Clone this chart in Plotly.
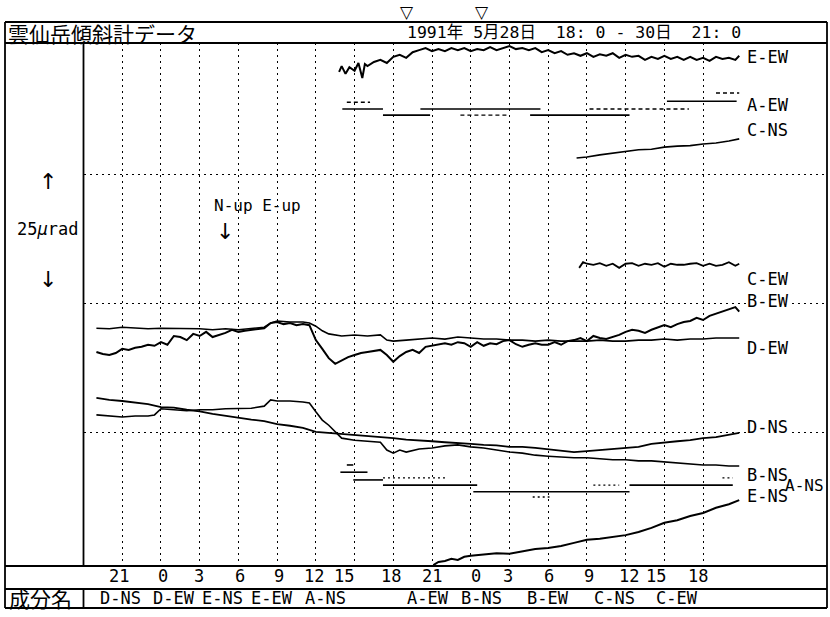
import plotly.graph_objects as go

# ---------------- data (hours after 1991-05-28 18:00, tilt in µrad, arbitrary offsets) -------------
grid_hours = [3, 6, 9, 12, 15, 18, 21, 24, 27, 30, 33, 36, 39, 42, 45, 48]
grid_urad = [25, 50, 75]

b_ew_t = [1.0, 1.5, 2.0, 2.5, 3.0, 3.5, 4.0, 4.5, 5.0, 5.5,
          6.0, 6.5, 7.0, 7.5, 8.0, 8.5, 9.0, 9.5, 10.0, 10.5,
          11.0, 11.5, 12.0, 12.5, 13.0, 13.5, 14.0, 14.5, 15.0, 15.5,
          16.0, 16.5, 17.0, 17.5, 18.0, 18.5, 19.0, 19.5, 20.0, 20.5,
          21.0, 21.5, 22.0, 22.5, 23.0, 23.5, 24.0, 24.5, 25.0, 25.5,
          26.0, 26.5, 27.0, 27.5, 28.0, 28.5, 29.0, 29.5, 30.0, 30.5,
          31.0, 31.5, 32.0, 32.5, 33.0, 33.5, 34.0, 34.5, 35.0, 35.5,
          36.0, 36.5, 37.0, 37.5, 38.0, 38.5, 39.0, 39.5, 40.0, 40.5,
          41.0, 41.5, 42.0, 42.5, 43.0, 43.5, 44.0, 44.5, 45.0, 45.5,
          46.0, 46.5, 47.0, 47.5, 48.0, 48.5, 49.0, 49.5, 50.0, 50.5, 50.8]
b_ew_v = [40.7, 40.3, 40.1, 40.5, 41.3, 41.1, 41.5, 41.7, 42.1, 41.9,
          42.6, 42.1, 43.8, 43.6, 43.0, 44.2, 43.8, 44.6, 43.6, 44.0,
          44.4, 45.0, 44.6, 44.8, 45.0, 45.2, 45.3, 46.3, 46.5, 46.1,
          46.3, 45.9, 46.1, 45.9, 43.0, 41.3, 39.5, 38.4, 39.1, 39.7,
          40.1, 40.5, 40.7, 40.9, 41.1, 40.1, 38.8, 39.9, 40.7, 41.1,
          40.5, 41.7, 41.9, 42.2, 42.4, 42.1, 42.6, 42.4, 41.7, 42.6,
          41.9, 42.4, 42.2, 42.8, 43.0, 42.2, 41.7, 42.1, 42.4, 42.1,
          42.1, 42.6, 42.1, 42.8, 43.0, 43.4, 42.8, 43.8, 43.4, 43.2,
          43.6, 44.0, 44.6, 45.0, 44.8, 44.4, 45.0, 45.5, 45.9, 45.5,
          46.1, 46.5, 46.7, 47.3, 46.9, 47.7, 48.1, 48.5, 49.0, 49.4, 48.5]

d_ew_t = [1, 2, 3, 4, 5, 6, 7, 8, 9, 10, 11, 12, 13, 14, 14.5, 15, 16, 17, 17.5, 18,
          18.5, 19, 20, 21, 22, 23, 23.5, 24, 25, 26, 27, 28, 29, 30, 31, 32, 33, 34,
          35, 36, 37, 38, 39, 40, 41, 42, 43, 44, 45, 46, 47, 48, 49, 50, 50.8]
d_ew_v = [45.3, 45.2, 45.5, 45.3, 45.2, 45.3, 45.3, 45.2, 45.2, 45.0, 45.2, 45.0, 45.2, 45.5,
          46.3, 46.7, 46.5, 46.5, 46.3, 45.7, 44.8, 44.2, 43.8, 44.0, 43.8, 44.0, 43.0, 42.8,
          43.0, 43.2, 43.4, 43.2, 43.6, 43.4, 43.2, 43.2, 43.0, 43.0, 42.8, 43.0, 42.8, 42.8,
          42.8, 43.0, 42.8, 42.8, 43.0, 43.0, 43.2, 43.0, 43.2, 43.2, 43.4, 43.4, 43.4]

d_ns_t = [1, 2, 3, 4, 5, 6, 7, 8, 9, 10, 11, 12, 13, 14, 15, 16, 17, 18, 19, 20, 21, 22,
          23, 24, 25, 26, 27, 28, 29, 30, 31, 32, 33, 34, 35, 36, 37, 38, 39, 40, 41, 42,
          43, 44, 45, 46, 47, 48, 49, 50, 50.8]
d_ns_v = [31.8, 31.4, 31.2, 30.9, 30.6, 30.0, 29.9, 29.5, 29.2, 28.7, 28.3, 28.0, 27.6, 27.3,
          26.7, 26.4, 26.0, 25.2, 25.0, 24.9, 24.6, 24.4, 24.2, 24.0, 23.7, 23.6, 23.4, 23.2,
          23.1, 22.9, 22.7, 22.6, 22.3, 22.3, 22.1, 21.8, 21.5, 21.3, 21.5, 21.7, 21.9, 22.1,
          22.3, 22.9, 23.2, 23.4, 23.6, 24.0, 24.2, 24.6, 25.0]

b_ns_t = [1, 2, 3, 4, 5, 5.5, 6, 7, 8, 9, 10, 11, 12, 13, 14, 14.5, 15, 16, 17, 17.5, 18,
          18.5, 19, 19.5, 20, 21, 22, 23, 23.5, 24, 24.5, 25, 26, 27, 28, 29, 30, 31, 32,
          33, 34, 35, 36, 37, 38, 39, 40, 41, 42, 43, 44, 45, 46, 47, 48, 49, 50, 50.8]
b_ns_v = [28.5, 28.3, 28.1, 28.3, 28.3, 28.5, 29.7, 29.5, 29.3, 29.5, 29.5, 29.7, 29.7, 29.8,
          30.2, 31.4, 31.2, 31.2, 31.0, 30.8, 29.1, 27.5, 26.5, 25.2, 24.0, 23.6, 23.4, 23.2,
          21.7, 21.1, 21.7, 21.3, 21.9, 22.1, 22.5, 22.7, 22.3, 22.1, 21.7, 21.3, 21.1, 20.7,
          20.5, 20.3, 20.2, 20.2, 20.0, 19.8, 19.8, 19.6, 19.6, 19.4, 19.2, 19.0, 18.8, 18.8,
          18.6, 18.6]

c_ew_t = [38.4, 38.7, 39.0, 39.5, 40.0, 40.5, 41.0, 41.5, 42.0, 42.5, 43.0, 43.5, 44.0,
          44.5, 45.0, 45.5, 46.0, 46.5, 47.0, 47.5, 48.0, 48.5, 49.0, 49.5, 50.0, 50.5, 50.8]
c_ew_v = [57.0, 58.1, 57.8, 57.6, 57.9, 57.4, 57.8, 57.0, 57.8, 57.9, 57.4, 57.8, 57.6,
          57.9, 57.2, 57.8, 57.6, 57.6, 57.8, 57.9, 57.4, 57.8, 57.4, 57.6, 58.1, 57.4, 57.8]

c_ns_t = [38.2, 39, 40, 41, 42, 43, 44, 45, 46, 47, 48, 49, 50, 50.8]
c_ns_v = [78.3, 78.5, 78.9, 79.2, 79.6, 79.9, 80.0, 80.4, 80.6, 80.7, 81.0, 81.2, 81.6, 82.0]

e_ew_t = [19.8, 20.0, 20.3, 20.6, 21.0, 21.3, 21.6, 21.8, 22.0, 22.5, 23.0, 23.5, 24.0,
          24.5, 25.0, 25.5, 26.0, 26.5, 27.0, 27.5, 28.0, 28.5, 29.0, 29.5, 30.0, 30.5,
          31.0, 31.5, 32.0, 32.5, 33.0, 33.5, 34.0, 34.5, 35.0, 35.5, 36.0, 36.5, 37.0,
          37.5, 38.0, 38.5, 39.0, 39.5, 40.0, 40.5, 41.0, 41.5, 42.0, 42.5, 43.0, 43.5,
          44.0, 44.5, 45.0, 45.5, 46.0, 46.5, 47.0, 47.5, 48.0, 48.5, 49.0, 49.5, 50.0,
          50.5, 50.8]
e_ew_v = [95.0, 96.1, 94.6, 95.9, 95.2, 96.7, 93.8, 96.5, 96.1, 96.9, 97.3, 96.7, 97.9,
          98.3, 97.7, 98.8, 99.2, 99.6, 99.0, 99.4, 99.0, 99.6, 99.2, 99.6, 99.0, 99.4,
          99.2, 99.8, 99.2, 99.6, 100.0, 99.4, 99.6, 99.2, 99.6, 98.8, 99.2, 98.6, 99.0,
          98.3, 98.6, 98.1, 98.6, 97.9, 98.4, 98.1, 98.6, 97.7, 98.3, 97.9, 98.1, 97.3,
          97.9, 97.5, 98.1, 97.5, 97.9, 97.3, 97.9, 97.3, 97.7, 97.1, 97.9, 97.5, 97.7,
          97.3, 98.1]

e_ns_t = [27.1, 27.5, 28, 28.5, 29, 29.5, 30, 31, 32, 33, 34, 35, 36, 37, 38, 39, 40, 41,
          42, 43, 44, 45, 46, 47, 48, 49, 50, 50.8]
e_ns_v = [-0.6, 0.0, 0.2, 0.6, 0.4, 1.0, 1.2, 1.4, 1.7, 1.6, 2.1, 2.5, 2.7, 3.1, 3.7, 4.3,
          4.5, 4.8, 5.2, 5.8, 6.6, 7.6, 8.1, 8.9, 9.5, 10.5, 11.2, 12.0]

# A station: quantised record, drawn as separate level segments
a_ew_solid_start = [20.05, 23.2, 26.1, 34.6, 45.2]
a_ew_solid_end = [23.2, 26.85, 35.4, 42.3, 50.6]
a_ew_solid_level = [87.8, 86.6, 87.8, 86.6, 89.3]
a_ew_dash_start = [20.4, 29.2, 39.2, 49.0]
a_ew_dash_end = [22.2, 32.8, 46.9, 50.8]
a_ew_dash_level = [89.1, 86.6, 87.8, 90.9]

a_ns_solid_start = [19.9, 20.4, 20.9, 23.2, 30.2, 42.3]
a_ns_solid_end = [22.0, 20.9, 23.2, 30.5, 42.3, 50.3]
a_ns_solid_level = [17.4, 18.8, 15.9, 14.9, 13.6, 14.9]
a_ns_dot_start = [23.2, 34.8, 39.5, 49.5]
a_ns_dot_end = [28.2, 36.1, 41.5, 50.3]
a_ns_dot_level = [16.3, 12.6, 14.9, 16.3]

hour_labels = ["21", "0", "3", "6", "9", "12", "15", "18",
               "21", "0", "3", "6", "9", "12", "15", "18"]
component_names = ["D-NS", "D-EW", "E-NS", "E-EW", "A-NS",
                   "A-EW", "B-NS", "B-EW", "C-NS", "C-EW"]

# ---------------- figure -------------------------------------------------------------
W, H = 830, 617
def fx(p):
    return p / W
def fy(p):
    return 1 - p / H

MONO = "DejaVu Sans Mono, Liberation Mono, monospace"
MONOJP = "DejaVu Sans Mono, Noto Sans CJK JP, monospace"
JP = "Noto Sans CJK JP, sans-serif"
SYM = "DejaVu Sans, sans-serif"

fig = go.Figure()

def add_line(t, v, width=1.8, dash="solid"):
    fig.add_trace(go.Scatter(x=t, y=v, mode="lines",
                             line=dict(color="black", width=width, dash=dash),
                             hoverinfo="skip", showlegend=False))

def segs(starts, ends, levels):
    xs, ys = [], []
    for a, b, l in zip(starts, ends, levels):
        xs += [a, b, None]
        ys += [l, l, None]
    return xs, ys

add_line(e_ew_t, e_ew_v, 2.0)
add_line(c_ns_t, c_ns_v, 1.6)
add_line(c_ew_t, c_ew_v, 1.8)
add_line(b_ew_t, b_ew_v, 2.0)
add_line(d_ew_t, d_ew_v, 1.6)
add_line(d_ns_t, d_ns_v, 1.8)
add_line(b_ns_t, b_ns_v, 1.6)
add_line(e_ns_t, e_ns_v, 2.0)
x, y = segs(a_ew_solid_start, a_ew_solid_end, a_ew_solid_level)
add_line(x, y, 1.6)
x, y = segs(a_ew_dash_start, a_ew_dash_end, a_ew_dash_level)
add_line(x, y, 1.4, "4px,3px")
x, y = segs(a_ns_solid_start, a_ns_solid_end, a_ns_solid_level)
add_line(x, y, 1.6)
x, y = segs(a_ns_dot_start, a_ns_dot_end, a_ns_dot_level)
add_line(x, y, 1.4, "2px,3px")

grid = dict(showgrid=True, gridcolor="black", gridwidth=1.4, griddash="2px,4px",
            showticklabels=False, ticks="", zeroline=False, showline=False, fixedrange=True)
fig.update_layout(
    width=W, height=H, margin=dict(l=0, r=0, t=0, b=0),
    paper_bgcolor="white", plot_bgcolor="white", showlegend=False,
    xaxis=dict(domain=[fx(83.5), fx(827)], range=[0, 57.6], tickvals=grid_hours, **grid),
    yaxis=dict(domain=[fy(566), fy(43)], range=[-0.78, 100.58], tickvals=grid_urad, **grid),
)

# frame lines
frame = [((5, 22), (827, 22)), ((5, 43), (827, 43)), ((5, 566), (827, 566)),
         ((5, 589), (827, 589)), ((5, 608), (827, 608)), ((5, 22), (5, 608)),
         ((827, 22), (827, 608)), ((83.5, 43), (83.5, 566)), ((83.5, 589), (83.5, 608))]
for (x0, y0), (x1, y1) in frame:
    fig.add_shape(type="line", xref="paper", yref="paper", x0=fx(x0), y0=fy(y0),
                  x1=fx(x1), y1=fy(y1), line=dict(color="black", width=1.8))

def text(s, x, y, size=16, font=MONO, xanchor="left", bg=None, yanchor="middle"):
    fig.add_annotation(text=s, x=fx(x), y=fy(y), xref="paper", yref="paper",
                       showarrow=False, xanchor=xanchor, yanchor=yanchor,
                       font=dict(family=font, size=size, color="black"),
                       bgcolor=bg, borderpad=0)

# header
text("雲仙岳傾斜計データ", 7, 33, 21, JP)
text("1991年 5月28日  18: 0 - 30日  21: 0", 406, 32, 16.5, MONOJP)
text("▽", 407, 1, 17, SYM, "center", yanchor="top")
text("▽", 482, 1, 17, SYM, "center", yanchor="top")

# left scale panel
text("↑", 48, 181, 22, SYM, "center")
text("25<i>μ</i>rad", 16, 229, 17, MONO)
text("↓", 48, 279, 22, SYM, "center")
text("N-up E-up", 213, 205, 16, MONO)
text("↓", 225, 231, 22, SYM, "center")

# series labels
labels = [("E-EW", 746, 57), ("A-EW", 746, 105), ("C-NS", 746, 130), ("C-EW", 746, 279),
          ("B-EW", 746, 301), ("D-EW", 746, 348), ("D-NS", 746, 427), ("B-NS", 746, 475),
          ("E-NS", 746, 496)]
for s, x0, y0 in labels:
    text(s, x0, y0, 17, MONO, bg="white")
text("A-NS", 784, 485, 16, MONO)

# bottom rows
hour_px = [119, 163, 199, 240, 279, 314, 344, 391, 432, 476, 508, 549, 589, 629, 656, 698]
for s, x0 in zip(hour_labels, hour_px):
    text(s, x0, 576, 17, MONO, "center")
text("成分名", 8, 598, 21, JP)
name_px = [120, 174, 222, 272, 325, 428, 481, 548, 614, 677]
for s, x0 in zip(component_names, name_px):
    text(s, x0, 598, 17, MONO, "center")

fig.write_html("out.html", config={"displayModeBar": False},
               post_script="document.body.style.margin='0';document.body.style.overflow='hidden';")
